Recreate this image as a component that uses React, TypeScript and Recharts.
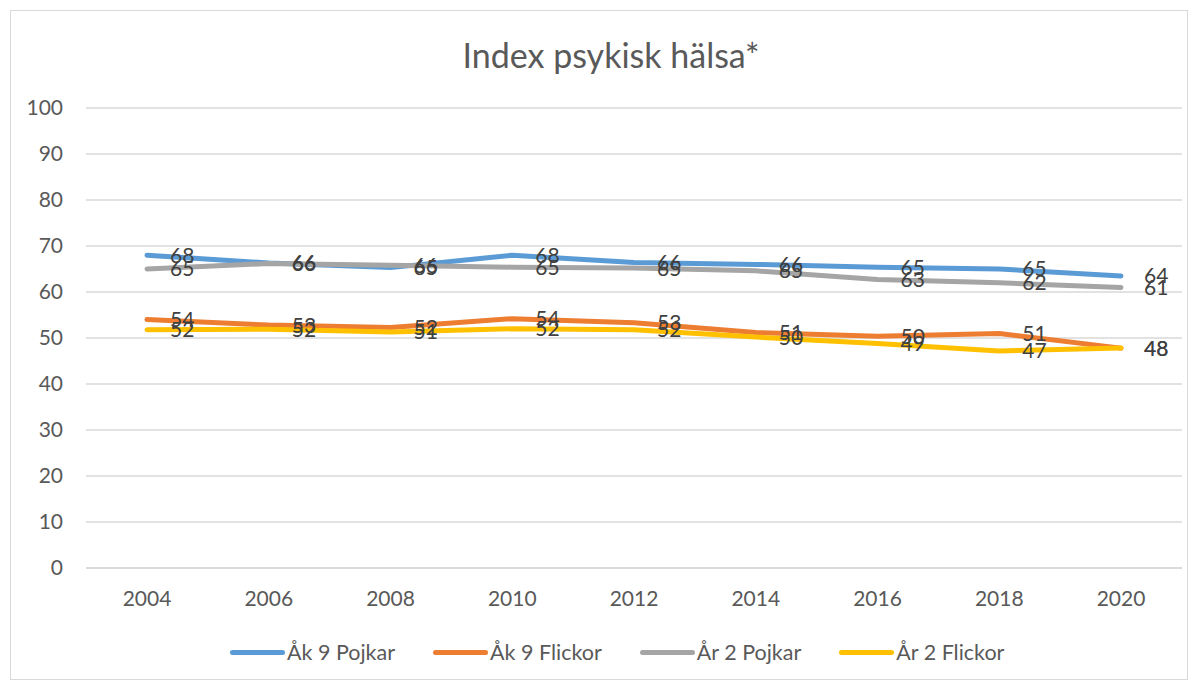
import React from 'react';
import { LineChart, Line, XAxis, YAxis, CartesianGrid, LabelList } from 'recharts';

const years = ['2004', '2006', '2008', '2010', '2012', '2014', '2016', '2018', '2020'];
const ak9Pojkar = [68.0, 66.3, 65.3, 68.0, 66.4, 66.0, 65.4, 65.0, 63.5];
const ak9Flickor = [54.0, 52.8, 52.3, 54.2, 53.3, 51.2, 50.4, 51.0, 47.8];
const ar2Pojkar = [65.0, 66.2, 65.8, 65.4, 65.2, 64.6, 62.7, 62.0, 61.0];
const ar2Flickor = [51.8, 51.9, 51.3, 52.0, 51.8, 50.2, 48.8, 47.2, 47.8];
const yTicks = [0, 10, 20, 30, 40, 50, 60, 70, 80, 90, 100];

const series = [
  { key: 'ak9Pojkar', name: 'Åk 9 Pojkar', color: '#5B9BD5' },
  { key: 'ak9Flickor', name: 'Åk 9 Flickor', color: '#ED7D31' },
  { key: 'ar2Pojkar', name: 'År 2 Pojkar', color: '#A5A5A5' },
  { key: 'ar2Flickor', name: 'År 2 Flickor', color: '#FFC000' },
];

const data = years.map((y, i) => ({
  year: y,
  ak9Pojkar: ak9Pojkar[i],
  ak9Flickor: ak9Flickor[i],
  ar2Pojkar: ar2Pojkar[i],
  ar2Flickor: ar2Flickor[i],
}));

const FONT = 'Lato, "Open Sans", sans-serif';

export default function App() {
  return (
    <div style={{ position: 'absolute', left: 0, top: 0, width: 1200, height: 683, background: '#fff' }}>
      <div style={{ position: 'absolute', left: 10, top: 10, width: 1178, height: 670, border: '1px solid #D9D9D9', boxSizing: 'border-box' }} />
      <div style={{ position: 'absolute', left: 0, top: 33, width: 1222, textAlign: 'center', fontFamily: FONT, fontSize: 34, lineHeight: '44px', color: '#595959' }}>
        Index psykisk hälsa*
      </div>
      <div style={{ position: 'absolute', left: 0, top: 0 }}>
        <LineChart width={1200} height={683} data={data} margin={{ top: 108, right: 18, bottom: 85, left: 0 }}>
          <CartesianGrid vertical={false} stroke="#D9D9D9" strokeWidth={1.3} />
          <XAxis
            dataKey="year"
            height={30}
            padding={{ left: 61, right: 61 }}
            tickLine={false}
            axisLine={{ stroke: '#D9D9D9', strokeWidth: 1.3 }}
            tickMargin={17}
            tick={{ fill: '#595959', fontSize: 21, fontFamily: FONT }}
            interval={0}
          />
          <YAxis
            width={86}
            domain={[0, 100]}
            ticks={yTicks}
            tickLine={false}
            axisLine={false}
            tickSize={6}
            tickMargin={17}
            tick={{ fill: '#595959', fontSize: 21, fontFamily: FONT }}
          />
          {series.map((s) => (
            <Line
              key={s.key}
              type="linear"
              dataKey={s.key}
              name={s.name}
              stroke={s.color}
              strokeWidth={5}
              strokeLinecap="round"
              strokeLinejoin="round"
              dot={false}
              activeDot={false}
              isAnimationActive={false}
            >
              <LabelList
                dataKey={s.key}
                position="right"
                offset={23}
                formatter={(v: any) => Math.round(Number(v))}
                fill="#404040"
                fontSize={21}
                fontFamily={FONT}
              />
            </Line>
          ))}
        </LineChart>
      </div>
      <div style={{ position: 'absolute', left: 230, top: 638, display: 'flex', alignItems: 'center', fontFamily: FONT, fontSize: 21.5, lineHeight: '28px', color: '#595959', whiteSpace: 'nowrap' }}>
        {series.map((s) => (
          <div key={s.key} style={{ display: 'flex', alignItems: 'center', marginRight: 38 }}>
            <div style={{ width: 55, height: 5, borderRadius: 3, background: s.color, marginRight: 2 }} />
            <span>{s.name}</span>
          </div>
        ))}
      </div>
    </div>
  );
}
